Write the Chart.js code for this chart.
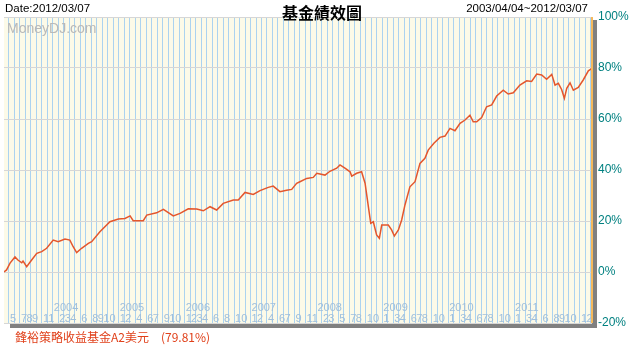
<!DOCTYPE html>
<html>
<head>
<meta charset="utf-8">
<script src="https://cdn.jsdelivr.net/npm/chart.js@4.4.1/dist/chart.umd.min.js"></script>
<style>
  html, body { margin: 0; padding: 0; background: #fff; }
  #wrap { position: relative; width: 631px; height: 354px; font-family: "Liberation Sans", Arial, sans-serif; }
  #wrap canvas { position: absolute; left: 0; top: 0; }
  .txt { position: absolute; white-space: nowrap; line-height: 1; }
  #date { left: 5px; top: 3px; font-size: 11.5px; color: #000; }
  #title { left: 322px; top: 0px; transform: translateX(-50%); font: bold 16px "Noto Sans CJK TC", sans-serif; }
  #range { right: 43px; top: 3px; font-size: 11.5px; color: #000; }
  #mark { left: 7px; top: 21px; font-size: 14px; color: #b9b9b9; }
  #legend { left: 15px; top: 331px; font-size: 12px; color: #e0401a; font-family: "Noto Sans CJK TC", sans-serif; }
</style>
</head>
<body>
<div id="wrap">
  <canvas id="navChart" width="631" height="354"></canvas>
  <div class="txt" id="date">Date:2012/03/07</div>
  <div class="txt" id="title">基金績效圖</div>
  <div class="txt" id="range">2003/04/04~2012/03/07</div>
  <div class="txt" id="mark">MoneyDJ.com</div>
  <div class="txt" id="legend">鋒裕策略收益基金A2美元　(79.81%)</div>
</div>
<script>
// ---------- Data ----------
const dates = [
  '2003/04/04','2003/04/18','2003/05/07','2003/06/04','2003/06/20','2003/07/11','2003/07/18','2003/08/08',
  '2003/09/05','2003/10/03','2003/10/30','2003/11/27','2004/01/03','2004/01/30','2004/03/07','2004/04/04',
  '2004/04/22','2004/05/11','2004/06/08','2004/07/15','2004/08/03','2004/09/18','2004/11/13','2004/12/29',
  '2005/02/05','2005/03/03','2005/03/20','2005/05/15','2005/06/04','2005/07/28','2005/09/05','2005/10/29',
  '2005/12/06','2006/01/21','2006/03/07','2006/04/13','2006/05/20','2006/06/26','2006/08/02','2006/09/27',
  '2006/10/24','2006/12/01','2007/01/16','2007/02/23','2007/04/08','2007/05/05','2007/06/12','2007/07/18',
  '2007/08/16','2007/09/13','2007/10/01','2007/11/08','2007/12/14','2008/01/03','2008/02/18','2008/03/15',
  '2008/04/22','2008/05/10','2008/06/07','2008/07/05','2008/07/14','2008/08/11','2008/09/08','2008/09/27',
  '2008/10/15','2008/10/28','2008/11/12','2008/11/30','2008/12/15','2008/12/28','2009/02/04','2009/02/22',
  '2009/03/07','2009/03/29','2009/04/17','2009/05/05','2009/06/02','2009/06/30','2009/07/27','2009/08/24',
  '2009/09/12','2009/10/13','2009/11/16','2009/12/14','2010/01/11','2010/02/08','2010/03/06','2010/04/03',
  '2010/04/30','2010/05/18','2010/06/07','2010/07/04','2010/08/01','2010/08/29','2010/09/26','2010/11/02',
  '2010/11/29','2010/12/27','2011/02/03','2011/03/10','2011/04/07','2011/05/05','2011/06/02','2011/06/29',
  '2011/07/27','2011/08/15','2011/09/03','2011/09/21','2011/10/06','2011/10/19','2011/11/07','2011/11/25',
  '2011/12/22','2012/01/19','2012/02/17','2012/03/07'
];
const returnPct = [
  0, 0.8, 3.5, 5.9, 4.7, 3.6, 4.3, 2.1,
  4.7, 7.3, 8.0, 9.3, 12.5, 11.9, 12.9, 12.5,
  9.9, 7.6, 9.3, 11.2, 11.9, 15.8, 19.7, 20.8,
  21.0, 22.0, 20.1, 20.1, 22.3, 23.2, 24.6, 22.0,
  23.0, 24.8, 24.7, 24.0, 25.6, 24.3, 26.9, 28.2,
  28.2, 31.2, 30.4, 31.9, 33.2, 33.7, 31.5, 32.1,
  32.4, 34.8, 35.4, 36.7, 37.1, 38.7, 38.0, 39.5,
  40.7, 42.0, 40.7, 39.3, 37.6, 38.7, 39.3, 34.8,
  25.6, 19.1, 19.7, 14.5, 13.2, 18.4, 18.4, 16.5,
  14.1, 16.5, 20.4, 26.3, 33.4, 35.4, 42.6, 44.6,
  47.8, 50.5, 52.8, 53.3, 56.3, 55.4, 58.3, 59.6,
  61.5, 58.9, 58.9, 60.6, 64.8, 65.5, 69.0, 71.3,
  69.8, 70.3, 73.3, 75.0, 74.7, 77.6, 77.3, 75.6,
  77.5, 73.3, 74.0, 71.6, 68.1, 72.0, 74.2, 71.3,
  72.4, 75.3, 78.9, 79.81
];
const monthLabels = [
  '2003/05','2003/07','2003/08','2003/09','2003/11',
  '2004/02','2004/03','2004/04','2004/06','2004/08','2004/09','2004/10',
  '2005/01','2005/02','2005/04','2005/06','2005/07','2005/09','2005/10',
  '2006/01','2006/02','2006/03','2006/04','2006/06','2006/08','2006/10',
  '2007/01','2007/02','2007/04','2007/06','2007/07','2007/09','2007/11',
  '2008/02','2008/03','2008/05','2008/07','2008/08','2008/10',
  '2009/01','2009/03','2009/04','2009/06','2009/07','2009/08','2009/10',
  '2010/01','2010/03','2010/04','2010/06','2010/07','2010/08','2010/10',
  '2011/01','2011/03','2011/04','2011/06','2011/08','2011/09','2011/10',
  '2012/01','2012/02'
];
const yearLabels = ['2004','2005','2006','2007','2008','2009','2010','2011'];
const yTicks = [-20, 0, 20, 40, 60, 80, 100];

// ---------- Helpers ----------
// months since 2003/04/01 (fractional)
function monthIdx(s) {
  const [y, m, d] = s.split('/').map(Number);
  return (y - 2003) * 12 + (m - 4) + ((d || 1) - 1) / 30;
}
const xMin = monthIdx(dates[0]);
const xMax = monthIdx(dates[dates.length - 1]);

const COLORS = {
  bg: '#fcfae8',
  vgrid: '#abd3f0',
  hgrid: '#d6d6d6',
  line: '#e4562c',
  tick: '#008080',
  mlabel: '#9fbfdc',
  shadow: '#808080',
  edge: '#f5b95c'
};

// ---------- Plugin: background, month/year labels, frame ----------
const framePlugin = {
  id: 'frame',
  beforeDraw(chart) {
    const { ctx, chartArea: a } = chart;
    ctx.save();
    ctx.fillStyle = COLORS.shadow;
    ctx.fillRect(a.left + 6, a.top + 3, a.right - a.left - 1, a.bottom - a.top + 2);
    ctx.fillStyle = COLORS.bg;
    ctx.fillRect(a.left, a.top, a.right - a.left, a.bottom - a.top);
    ctx.restore();
  },
  beforeDatasetsDraw(chart) {
    const { ctx, chartArea: a, scales: { x } } = chart;
    ctx.save();
    ctx.fillStyle = COLORS.mlabel;
    ctx.font = '11px "Liberation Sans", Arial, sans-serif';
    ctx.textAlign = 'left';
    ctx.textBaseline = 'alphabetic';
    monthLabels.forEach(s => {
      const px = x.getPixelForValue(monthIdx(s + '/01'));
      ctx.fillText(String(Number(s.split('/')[1])), px + 1, a.bottom - 1);
    });
    yearLabels.forEach(y => {
      const px = x.getPixelForValue(monthIdx(y + '/01/01'));
      ctx.fillText(y, px + 1, a.bottom - 12);
    });
    ctx.restore();
  },
  afterDatasetsDraw(chart) {
    const { ctx, chartArea: a } = chart;
    ctx.save();
    ctx.strokeStyle = COLORS.edge;
    ctx.lineWidth = 2;
    ctx.beginPath();
    ctx.moveTo(a.right, a.top);
    ctx.lineTo(a.right, a.bottom);
    ctx.stroke();
    ctx.restore();
  }
};

// ---------- Chart ----------
new Chart(document.getElementById('navChart'), {
  type: 'line',
  data: {
    datasets: [{
      label: '鋒裕策略收益基金A2美元',
      data: dates.map((d, i) => ({ x: monthIdx(d), y: returnPct[i] })),
      borderColor: COLORS.line,
      borderWidth: 1.5,
      pointRadius: 0,
      tension: 0,
      fill: false
    }]
  },
  options: {
    responsive: false,
    animation: false,
    layout: { padding: { left: 4, top: 17, right: 0, bottom: 31 } },
    plugins: { legend: { display: false }, tooltip: { enabled: false } },
    scales: {
      x: {
        type: 'linear',
        min: xMin,
        max: xMax,
        afterBuildTicks(s) {
          const t = [];
          for (let k = Math.ceil(xMin); k <= Math.floor(xMax); k++) t.push({ value: k });
          s.ticks = t;
        },
        afterFit(s) { s.height = 0; },
        ticks: { display: false },
        grid: { color: COLORS.vgrid, lineWidth: 1, drawTicks: false },
        border: { display: false }
      },
      y: {
        position: 'right',
        min: -20,
        max: 100,
        afterBuildTicks(s) { s.ticks = yTicks.map(v => ({ value: v })); },
        afterFit(s) { s.width = 39; },
        ticks: {
          padding: 6,
          color: COLORS.tick,
          font: { family: '"Liberation Sans", Arial, sans-serif', size: 12 },
          callback: v => v + '%'
        },
        grid: { color: COLORS.hgrid, lineWidth: 1, drawTicks: false },
        border: { display: false }
      }
    }
  },
  plugins: [framePlugin]
});
</script>
</body>
</html>
